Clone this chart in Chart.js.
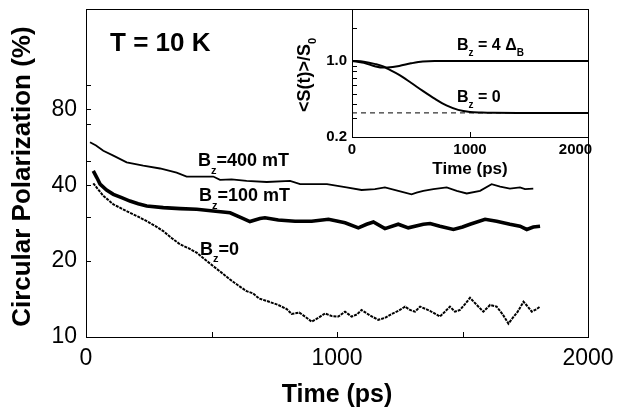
<!DOCTYPE html>
<html>
<head>
<meta charset="utf-8">
<script src="https://cdn.jsdelivr.net/npm/chart.js@4.4.0/dist/chart.umd.min.js"></script>
<style>
  body { margin: 0; background: #fff; }
  #wrap { position: relative; width: 620px; height: 407px; }
  #wrap canvas { position: absolute; left: 0; top: 0; }
</style>
</head>
<body>
<div id="wrap">
  <canvas id="mainChart" width="620" height="407"></canvas>
  <canvas id="insetChart" width="620" height="407"></canvas>
</div>
<script>
const FONT = '"Liberation Sans", Arial, sans-serif';

// Main panel: circular polarization (%) vs time (ps)
const t400 = [16, 40, 69, 109, 162, 228, 295, 361, 401, 460, 507, 534, 580, 640, 720, 813, 853, 960, 1038, 1098, 1151, 1191, 1244, 1297, 1317, 1344, 1384, 1437, 1477, 1517, 1570, 1616, 1650, 1689, 1729, 1749, 1782];
const p400 = [59.2, 57.5, 54.8, 52.4, 49.3, 47.8, 46.6, 44.9, 43.3, 43.3, 43.3, 42.0, 42.2, 41.6, 41.2, 41.6, 40.4, 40.4, 39.2, 38.3, 38.6, 39.2, 38.0, 36.8, 37.4, 38.0, 38.6, 39.2, 38.0, 37.1, 38.0, 40.4, 39.5, 38.8, 39.2, 38.6, 38.8];

const t100 = [29, 43, 56, 82, 109, 142, 175, 208, 242, 308, 375, 441, 507, 574, 620, 653, 693, 713, 766, 833, 899, 966, 1032, 1085, 1118, 1145, 1191, 1244, 1284, 1344, 1371, 1410, 1464, 1500, 1530, 1590, 1636, 1689, 1729, 1756, 1782, 1809];
const p100 = [45.6, 42.9, 40.4, 38.3, 36.8, 35.7, 34.6, 33.8, 33.1, 32.6, 32.3, 32.1, 31.6, 31.1, 29.7, 28.7, 29.5, 29.7, 29.1, 28.8, 28.8, 29.3, 28.4, 27.1, 28.0, 28.6, 26.9, 28.0, 27.1, 28.0, 28.2, 27.5, 26.7, 27.3, 28.0, 29.3, 28.8, 28.0, 27.5, 26.7, 27.3, 27.5];

const t0 = [29, 69, 109, 142, 175, 208, 242, 275, 308, 341, 375, 408, 441, 474, 507, 540, 574, 607, 640, 665, 690, 720, 766, 800, 819, 850, 880, 899, 925, 952, 980, 1005, 1032, 1058, 1080, 1098, 1130, 1164, 1190, 1218, 1245, 1271, 1291, 1311, 1331, 1370, 1410, 1430, 1450, 1470, 1490, 1510, 1530, 1560, 1583, 1610, 1636, 1660, 1683, 1700, 1720, 1743, 1760, 1776, 1795, 1809];
const p0 = [40.7, 36.3, 33.6, 32.3, 31.1, 30.0, 28.8, 27.6, 26.3, 24.7, 23.3, 22.5, 21.6, 20.3, 19.1, 18.0, 16.9, 16.0, 15.2, 14.9, 14.2, 13.9, 13.4, 12.9, 12.35, 12.5, 11.9, 11.5, 11.9, 12.4, 12.1, 12.05, 12.6, 12.05, 12.3, 12.8, 12.2, 11.7, 11.9, 12.35, 12.7, 13.2, 12.8, 12.6, 13.2, 12.7, 12.05, 12.6, 13.2, 12.6, 12.8, 13.5, 14.3, 13.3, 12.6, 13.4, 13.2, 12.3, 11.3, 11.9, 12.6, 13.8, 13.2, 12.6, 12.9, 13.2];

const xTicksMain = [0, 500, 1000, 1500, 2000];
const xLabelsMain = [0, 1000, 2000];
const yTicksMain = [10, 20, 30, 40, 50, 70, 80, 100];
const yLabelsMain = [10, 20, 40, 80];

// Inset: <S(t)>/S0 vs time (ps)
const tInset = [0, 100, 200, 265, 300, 400, 500, 600, 700, 800, 900, 1000, 1100, 1200, 1400, 1600, 1800, 2000];
const sInsetB4 = [1.0, 0.96, 0.89, 0.868, 0.87, 0.90, 0.95, 0.99, 1.0, 1.0, 1.0, 1.0, 1.0, 1.0, 1.0, 1.0, 1.0, 1.0];
const sInsetB0 = [1.0, 0.985, 0.935, 0.89, 0.85, 0.745, 0.63, 0.53, 0.45, 0.39, 0.355, 0.34, 0.336, 0.334, 0.333, 0.333, 0.333, 0.333];
const tLimit = [0, 2000];
const sLimit = [0.333, 0.333];

const xTicksInset = [0, 1000, 2000];
const yTicksInset = [0.2, 0.3, 0.4, 0.5, 0.6, 0.7, 0.8, 0.9, 1, 2];
const yLabelsInset = [0.2, 1];

const pts = (xs, ys) => xs.map((x, i) => ({x, y: ys[i]}));

// keep the plot box where it is: no extra room for half-labels
const noPadX = s => { s.paddingLeft = 0; s.paddingRight = 0; };
const noPadY = s => { s.paddingTop = 0; s.paddingBottom = 0; };

function drawParts(ctx, x, y, parts, size) {
  let cx = x;
  parts.forEach(([txt, sub]) => {
    const s = sub ? Math.round(size * 0.62) : size;
    ctx.font = 'bold ' + s + 'px ' + FONT;
    ctx.fillText(txt, cx, sub ? y + size * 0.42 : y);
    cx += ctx.measureText(txt).width;
  });
}

// frame, inward tick marks and text notes
const frameTicks = {
  id: 'frameTicks',
  afterDatasetsDraw(chart, args, opts) {
    const {ctx, chartArea: a, scales: {x, y}} = chart;
    ctx.save();
    ctx.strokeStyle = '#000';
    ctx.lineWidth = 1;
    ctx.strokeRect(Math.round(a.left) + 0.5, Math.round(a.top) + 0.5, Math.round(a.right - a.left), Math.round(a.bottom - a.top));
    ctx.beginPath();
    opts.xTicks.forEach(v => {
      const px = Math.round(x.getPixelForValue(v)) + 0.5;
      ctx.moveTo(px, a.bottom); ctx.lineTo(px, a.bottom - opts.len);
    });
    opts.yTicks.forEach(v => {
      const py = Math.round(y.getPixelForValue(v)) + 0.5;
      ctx.moveTo(a.left, py); ctx.lineTo(a.left + opts.len, py);
    });
    ctx.stroke();
    ctx.fillStyle = '#000';
    ctx.textBaseline = 'alphabetic';
    ctx.textAlign = 'left';
    (opts.notes || []).forEach(n => drawParts(ctx, x.getPixelForValue(n.x), y.getPixelForValue(n.y), n.parts, n.size));
    if (opts.yTitle) {
      ctx.save();
      ctx.translate(a.left - 47, (a.top + a.bottom) / 2 + 2);
      ctx.rotate(-Math.PI / 2);
      ctx.textBaseline = 'middle';
      let w = 0;
      opts.yTitle.parts.forEach(([txt, sub]) => {
        ctx.font = 'bold ' + (sub ? Math.round(opts.yTitle.size * 0.62) : opts.yTitle.size) + 'px ' + FONT;
        w += ctx.measureText(txt).width;
      });
      drawParts(ctx, -w / 2, 0, opts.yTitle.parts, opts.yTitle.size);
      ctx.restore();
    }
    ctx.restore();
  }
};

new Chart(document.getElementById('mainChart'), {
  type: 'line',
  data: {
    datasets: [
      {data: pts(t400, p400), borderColor: '#000', borderWidth: 1.8, pointRadius: 0},
      {data: pts(t100, p100), borderColor: '#000', borderWidth: 3.6, pointRadius: 0},
      {data: pts(t0, p0), borderColor: '#000', borderWidth: 2, borderDash: [3, 1], pointRadius: 0}
    ]
  },
  options: {
    responsive: false,
    animation: false,
    layout: {padding: {left: 0, top: 9, right: 32, bottom: 0}},
    plugins: {
      legend: {display: false},
      tooltip: {enabled: false},
      frameTicks: {
        xTicks: xTicksMain, yTicks: yTicksMain, len: 5,
        notes: [
          {x: 96, y: 135.7, size: 26, parts: [['T = 10 K', false]]},
          {x: 446, y: 47.6, size: 18, parts: [['B', false], ['z', true], ['=400 mT', false]]},
          {x: 450, y: 34.5, size: 18, parts: [['B', false], ['z', true], ['=100 mT', false]]},
          {x: 454, y: 21.2, size: 18, parts: [['B', false], ['z', true], ['=0', false]]}
        ]
      }
    },
    scales: {
      x: {
        type: 'linear', min: 0, max: 2000,
        afterBuildTicks: s => { s.ticks = xLabelsMain.map(v => ({value: v})); },
        afterFit: s => { s.height = 70; noPadX(s); },
        grid: {display: false, drawTicks: false},
        border: {display: false},
        ticks: {autoSkip: false, maxRotation: 0, padding: 8, color: '#000', font: {family: FONT, size: 23}, callback: v => String(v)},
        title: {display: true, text: 'Time (ps)', color: '#000', padding: {top: 0, bottom: -3}, font: {family: FONT, size: 25, weight: 'bold'}}
      },
      y: {
        type: 'logarithmic', min: 10, max: 200,
        afterBuildTicks: s => { s.ticks = yLabelsMain.map(v => ({value: v})); },
        afterFit: s => { s.width = 86; noPadY(s); },
        grid: {display: false, drawTicks: false},
        border: {display: false},
        ticks: {autoSkip: false, padding: 9, color: '#000', font: {family: FONT, size: 23}, callback: v => String(v)},
        title: {display: true, text: 'Circular Polarization (%) ', color: '#000', padding: {top: 7, bottom: 0}, font: {family: FONT, size: 26, weight: 'bold'}}
      }
    }
  },
  plugins: [frameTicks]
});

new Chart(document.getElementById('insetChart'), {
  type: 'line',
  data: {
    datasets: [
      {data: pts(tLimit, sLimit), borderColor: '#000', borderWidth: 1, borderDash: [5, 4], pointRadius: 0},
      {data: pts(tInset, sInsetB4), borderColor: '#000', borderWidth: 2, pointRadius: 0, cubicInterpolationMode: 'monotone'},
      {data: pts(tInset, sInsetB0), borderColor: '#000', borderWidth: 2, pointRadius: 0, cubicInterpolationMode: 'monotone'}
    ]
  },
  options: {
    responsive: false,
    animation: false,
    layout: {padding: {left: 292, top: 9, right: 32, bottom: 230}},
    plugins: {
      legend: {display: false},
      tooltip: {enabled: false},
      frameTicks: {
        xTicks: [1000], yTicks: yTicksInset, len: 5,
        notes: [
          {x: 890, y: 1.27, size: 16, parts: [['B', false], ['z', true], [' = 4 \u0394', false], ['B', true]]},
          {x: 890, y: 0.422, size: 16, parts: [['B', false], ['z', true], [' = 0', false]]}
        ],
        yTitle: {size: 18, parts: [['<S(t)>/S', false], ['0', true]]}
      }
    },
    scales: {
      x: {
        type: 'linear', min: 0, max: 2000,
        afterBuildTicks: s => { s.ticks = xTicksInset.map(v => ({value: v})); },
        afterFit: s => { s.height = 40; noPadX(s); },
        grid: {display: false, drawTicks: false},
        border: {display: false},
        ticks: {autoSkip: false, maxRotation: 0, padding: 4, color: '#000', font: {family: FONT, size: 15, weight: 'bold'},
          callback: v => v === 2000 ? '2000\u2007\u2007\u2007' : String(v)},
        title: {display: true, text: 'Time (ps)', color: '#000', padding: {top: 0, bottom: -3}, font: {family: FONT, size: 17, weight: 'bold'}}
      },
      y: {
        type: 'logarithmic', min: 0.2, max: 3,
        afterBuildTicks: s => { s.ticks = yLabelsInset.map(v => ({value: v})); },
        afterFit: s => { s.width = 60; noPadY(s); },
        grid: {display: false, drawTicks: false},
        border: {display: false},
        ticks: {autoSkip: false, padding: 5, color: '#000', font: {family: FONT, size: 15, weight: 'bold'}, callback: v => v.toFixed(1)}
      }
    }
  },
  plugins: [frameTicks]
});
</script>
</body>
</html>
